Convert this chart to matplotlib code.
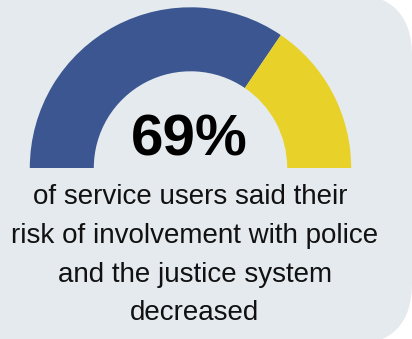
import matplotlib.pyplot as plt
from matplotlib.patches import FancyBboxPatch

# gauge data
share = 69
rest = 100 - share
big_label = "69%"
caption = ["of service users said their",
           "risk of involvement with police",
           "and the justice system",
           "decreased"]

blue = "#3b5690"
yellow = "#e8d22a"
panel = "#e5eaee"

plt.rcParams['font.family'] = ['Liberation Sans', 'DejaVu Sans']

fig = plt.figure(figsize=(4.12, 3.39), dpi=100)
ax = fig.add_axes([0, 0, 1, 1])

# rounded background card, left side runs off the picture
card = FancyBboxPatch((-80, -6), 492, 351,
                      boxstyle="round,pad=0,rounding_size=62",
                      facecolor=panel, edgecolor='none', zorder=0)
ax.add_patch(card)

# half donut: third slice is the hidden lower half
ax.pie([share, rest, 100], colors=[blue, yellow, 'none'],
       startangle=180, counterclock=False,
       center=(190.5, 171), radius=160.7,
       wedgeprops=dict(width=64, edgecolor='none'),
       frame=True)
ax.set_xlim(0, 412)
ax.set_ylim(0, 339)
ax.set_aspect('equal')
ax.axis('off')

ax.text(189, 339 - 155, big_label, ha='center', va='baseline',
        fontsize=42, fontweight='bold', color='black')

baselines = [204, 243, 282, 320]
xs = [190, 195, 195, 195]
for line, b, x in zip(caption, baselines, xs):
    ax.text(x, 339 - b, line, ha='center', va='baseline',
            fontsize=20, color='#111111')

fig.savefig('out.png', dpi=100)
